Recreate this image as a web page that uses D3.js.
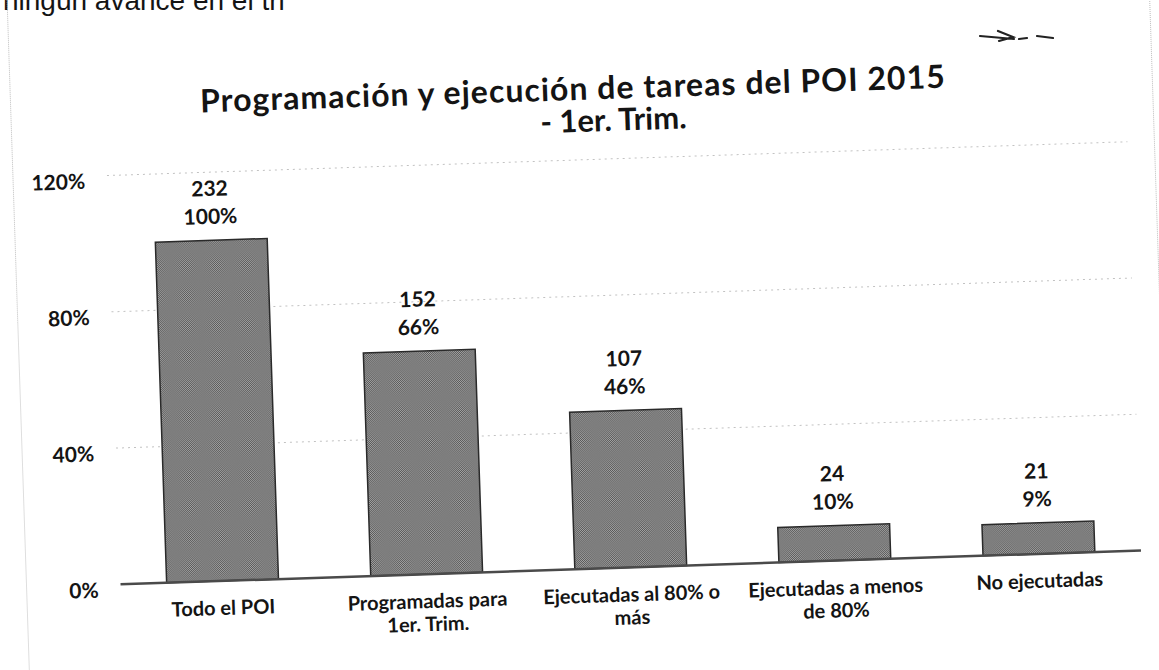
<!DOCTYPE html>
<html>
<head>
<meta charset="utf-8">
<script src="https://cdn.jsdelivr.net/npm/d3@7"></script>
<style>
  body { margin: 0; background: #fff; }
  svg { display: block; }
  text { font-family: Lato, "Liberation Sans", sans-serif; font-weight: 700; fill: #141414; }
</style>
</head>
<body>
<div id="chart"></div>
<script>
// values
const categories = ["Todo el POI", "Programadas para\n1er. Trim.", "Ejecutadas al 80% o\nmás", "Ejecutadas a menos\nde 80%", "No ejecutadas"];
const counts = [232, 152, 107, 24, 21];
const shares = [1.00, 0.655, 0.461, 0.103, 0.091];
const shareLabels = ["100%", "66%", "46%", "10%", "9%"];
const yTicks = [0, 0.4, 0.8, 1.2];
const yTickLabels = ["0%", "40%", "80%", "120%"];
const titleLines = ["Programación y ejecución de tareas del POI 2015", "- 1er. Trim."];

var width = 1159, height = 670;

var svg = d3.select("#chart")
  .append("svg")
  .attr("width", width)
  .attr("height", height);

// dithered grey like the scan
var defs = svg.append("defs");
var pat = defs.append("pattern")
  .attr("id", "dither")
  .attr("patternUnits", "userSpaceOnUse")
  .attr("width", 2)
  .attr("height", 2);
pat.append("rect").attr("width", 2).attr("height", 2).attr("fill", "#a6a6a6");
pat.append("rect").attr("width", 1).attr("height", 1).attr("fill", "#555");
pat.append("rect").attr("x", 1).attr("y", 1).attr("width", 1).attr("height", 1).attr("fill", "#555");

// the page text cut at the top
svg.append("text")
  .attr("x", 3)
  .attr("y", 10)
  .style("font-family", "'Liberation Sans', Arial, sans-serif")
  .style("font-weight", 400)
  .style("font-size", "28px")
  .text("ningún avance en el tri");

// hand mark top right
svg.append("path")
  .attr("d", "M980,36 L1014,39 M998,31 L1013,37 L999,41 M1019,39 L1027,38 M1037,36 L1053,38")
  .attr("fill", "none")
  .attr("stroke", "#222")
  .attr("stroke-width", 2.2)
  .attr("stroke-linecap", "round");

// whole chart is a bit tilted on the scan
var g = svg.append("g")
  .attr("transform", "rotate(-1.9,580,380)");

// chart frame
g.append("rect")
  .attr("x", 20)
  .attr("y", -80)
  .attr("width", 1142)
  .attr("height", 840)
  .attr("fill", "none")
  .attr("stroke", "#bdbdbd")
  .attr("stroke-dasharray", "1,1");

var x = d3.scaleBand()
  .domain(d3.range(categories.length))
  .range([114, 1135])
  .paddingInner(0.452)
  .paddingOuter(0.226);

var y = d3.scaleLinear()
  .domain([0, 1.2])
  .range([569, 160]);

// gridlines
g.selectAll(".grid")
  .data(yTicks.slice(1))
  .enter()
  .append("line")
  .attr("x1", 114)
  .attr("x2", 1135)
  .attr("y1", d => y(d))
  .attr("y2", d => y(d))
  .attr("stroke", "#c2c2c2")
  .attr("stroke-width", 1)
  .attr("stroke-dasharray", "2,4");

// y labels
g.selectAll(".ylab")
  .data(yTicks)
  .enter()
  .append("text")
  .attr("x", 92)
  .attr("y", d => y(d) + 4)
  .attr("text-anchor", "end")
  .attr("dominant-baseline", "central")
  .style("font-size", "21px")
  .text((d, i) => yTickLabels[i]);

// bars
g.selectAll(".bar")
  .data(shares)
  .enter()
  .append("rect")
  .attr("x", (d, i) => x(i))
  .attr("y", d => y(d))
  .attr("width", x.bandwidth())
  .attr("height", d => y(0) - y(d))
  .attr("fill", "url(#dither)")
  .attr("stroke", "#2a2a2a")
  .attr("stroke-width", 1.5);

// baseline
g.append("line")
  .attr("x1", 114)
  .attr("x2", 1135)
  .attr("y1", y(0))
  .attr("y2", y(0))
  .attr("stroke", "#4a4a4a")
  .attr("stroke-width", 2.5);

// data labels: count and share
g.selectAll(".cnt")
  .data(counts)
  .enter()
  .append("text")
  .attr("x", (d, i) => x(i) + x.bandwidth() / 2)
  .attr("y", (d, i) => y(shares[i]) - 53)
  .attr("text-anchor", "middle")
  .attr("dominant-baseline", "central")
  .style("font-size", "21px")
  .text(d => d);

g.selectAll(".pct")
  .data(shareLabels)
  .enter()
  .append("text")
  .attr("x", (d, i) => x(i) + x.bandwidth() / 2)
  .attr("y", (d, i) => y(shares[i]) - 25)
  .attr("text-anchor", "middle")
  .attr("dominant-baseline", "central")
  .style("font-size", "21px")
  .text(d => d);

// category labels
var cat = g.selectAll(".cat")
  .data(categories)
  .enter()
  .append("text")
  .attr("text-anchor", "middle")
  .style("font-size", "20px")
  .attr("transform", (d, i) => "translate(" + (x(i) + x.bandwidth() / 2) + "," + (y(0) + 34) + ")");
cat.selectAll("tspan")
  .data(d => d.split("\n"))
  .enter()
  .append("tspan")
  .attr("x", 0)
  .attr("dy", (d, j) => j === 0 ? 0 : 23)
  .text(d => d);

// title
g.append("text")
  .attr("x", 582)
  .attr("y", 100)
  .attr("text-anchor", "middle")
  .attr("textLength", 745)
  .attr("lengthAdjust", "spacing")
  .style("font-size", "32px")
  .text(titleLines[0]);
g.append("text")
  .attr("x", 622)
  .attr("y", 132)
  .attr("text-anchor", "middle")
  .style("font-size", "31px")
  .text(titleLines[1]);
</script>
</body>
</html>
